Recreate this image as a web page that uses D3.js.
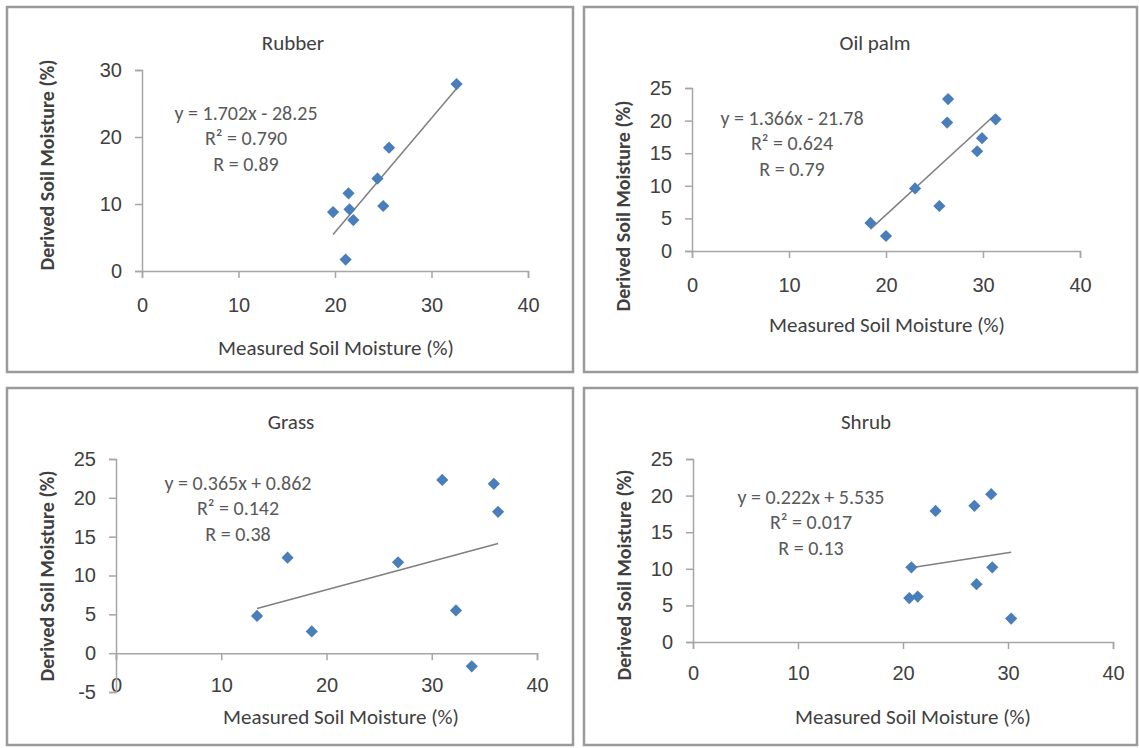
<!DOCTYPE html>
<html>
<head>
<meta charset="utf-8">
<script src="https://cdn.jsdelivr.net/npm/d3@7"></script>
<style>
  body { margin: 0; background: #fff; }
  svg { display: block; font-family: Carlito, Lato, "Open Sans", sans-serif; }
</style>
</head>
<body>
<svg width="1139" height="748"></svg>
<script>
// values
var titles = ["Rubber", "Oil palm", "Grass", "Shrub"];

var rubberX = [32.6, 25.6, 24.4, 25.0, 21.4, 21.5, 21.9, 19.8, 21.1];
var rubberY = [27.9, 18.4, 13.8, 9.7, 11.6, 9.2, 7.6, 8.8, 1.7];

var oilPalmX = [18.4, 20.0, 23.0, 25.5, 26.4, 26.3, 29.4, 29.9, 31.3];
var oilPalmY = [4.3, 2.3, 9.6, 6.9, 23.3, 19.7, 15.3, 17.3, 20.2];

var grassX = [13.4, 16.3, 18.6, 26.8, 31.0, 32.3, 33.8, 35.9, 36.3];
var grassY = [4.8, 12.3, 2.8, 11.7, 22.3, 5.5, -1.7, 21.8, 18.2];

var shrubX = [20.6, 20.8, 21.4, 23.1, 26.8, 27.0, 28.4, 28.5, 30.3];
var shrubY = [6.0, 10.2, 6.2, 17.9, 18.6, 7.9, 20.2, 10.2, 3.2];

var slopes = [1.702, 1.366, 0.365, 0.222];
var intercepts = [-28.25, -21.78, 0.862, 5.535];
var r2Text = ["0.790", "0.624", "0.142", "0.017"];
var rText = ["0.89", "0.79", "0.38", "0.13"];

var xTicks = [0, 10, 20, 30, 40];
var yTicks = [
  [0, 10, 20, 30],
  [0, 5, 10, 15, 20, 25],
  [-5, 0, 5, 10, 15, 20, 25],
  [0, 5, 10, 15, 20, 25]
];

var xLabel = "Measured Soil Moisture (%)";
var yLabel = "Derived Soil Moisture (%)";

var seriesX = [rubberX, oilPalmX, grassX, shrubX];
var seriesY = [rubberY, oilPalmY, grassY, shrubY];

// layout of each panel (page pixels)
var layout = [
  {box: [7, 7, 566, 365], px: [142, 528], py: [271, 70], tickY: 34,
   title: [293, 43], xt: [336, 348], yt: [47, 165], eq: [246, 113]},
  {box: [584, 7, 553, 365], px: [692, 1080], py: [251, 88], tickY: 34,
   title: [875, 43], xt: [887, 325], yt: [623, 206], eq: [792, 118]},
  {box: [7, 388, 566, 357], px: [116, 537], py: [692, 459], tickY: 32,
   title: [291, 422], xt: [341, 717], yt: [47, 576], eq: [238, 483]},
  {box: [584, 388, 553, 357], px: [693, 1113], py: [642, 459], tickY: 31,
   title: [866, 422], xt: [913, 717], yt: [624, 575], eq: [811, 497]}
];

var svg = d3.select("svg");
var diamond = d3.symbol().type(d3.symbolDiamond2).size(95);

titles.forEach(function(t, i) {
  var L = layout[i];
  var g = svg.append("g");

  g.append("rect")
    .attr("x", L.box[0]).attr("y", L.box[1])
    .attr("width", L.box[2]).attr("height", L.box[3])
    .attr("fill", "#fff")
    .attr("stroke", "#9a9a9a")
    .attr("stroke-width", 2.5);

  var yt = yTicks[i];
  var x = d3.scaleLinear().domain([0, 40]).range(L.px);
  var y = d3.scaleLinear().domain([yt[0], yt[yt.length - 1]]).range(L.py);

  // x axis sits on y = 0
  var xa = g.append("g")
    .attr("transform", "translate(0," + y(0) + ")")
    .call(d3.axisBottom(x).tickValues(xTicks).tickFormat(String).tickSize(7).tickSizeOuter(7));
  xa.selectAll("text")
    .attr("y", L.tickY).attr("dy", "0.35em");

  var ya = g.append("g")
    .attr("transform", "translate(" + x(0) + ",0)")
    .call(d3.axisLeft(y).tickValues(yt).tickFormat(String).tickSize(7).tickSizeOuter(7));
  ya.selectAll("text").attr("x", -20);

  g.selectAll(".domain, .tick line")
    .attr("stroke", "#a6a6a6").attr("stroke-width", 1.5);
  g.selectAll(".tick text")
    .attr("fill", "#404040")
    .style("font-size", "20px")
    .style("font-family", null);

  // trend line over the data range
  var xs = seriesX[i], ys = seriesY[i];
  var ext = d3.extent(xs);
  g.append("line")
    .attr("x1", x(ext[0])).attr("y1", y(slopes[i] * ext[0] + intercepts[i]))
    .attr("x2", x(ext[1])).attr("y2", y(slopes[i] * ext[1] + intercepts[i]))
    .attr("stroke", "#7f7f7f")
    .attr("stroke-width", 1.5);

  g.selectAll("path.pt")
    .data(xs)
    .enter().append("path")
    .attr("class", "pt")
    .attr("d", diamond)
    .attr("transform", function(d, j) { return "translate(" + x(d) + "," + y(ys[j]) + ")"; })
    .attr("fill", "#4a7ebb");

  // equation text
  var sign = intercepts[i] < 0 ? " - " : " + ";
  var eq = g.append("text")
    .attr("x", L.eq[0]).attr("y", L.eq[1])
    .attr("text-anchor", "middle")
    .attr("fill", "#595959")
    .style("font-size", "20px");
  eq.append("tspan").attr("x", L.eq[0]).attr("dy", "0.35em")
    .text("y = " + slopes[i].toFixed(3) + "x" + sign + Math.abs(intercepts[i]));
  eq.append("tspan").attr("x", L.eq[0]).attr("dy", 25)
    .text("R² = " + r2Text[i]);
  eq.append("tspan").attr("x", L.eq[0]).attr("dy", 26)
    .text("R = " + rText[i]);

  g.append("text")
    .attr("x", L.title[0]).attr("y", L.title[1]).attr("dy", "0.35em")
    .attr("text-anchor", "middle")
    .attr("fill", "#404040")
    .style("font-size", "21px")
    .text(t);

  g.append("text")
    .attr("x", L.xt[0]).attr("y", L.xt[1]).attr("dy", "0.35em")
    .attr("text-anchor", "middle")
    .attr("fill", "#404040")
    .style("font-size", "21px")
    .text(xLabel);

  g.append("text")
    .attr("transform", "translate(" + L.yt[0] + "," + L.yt[1] + ") rotate(-90)")
    .attr("dy", "0.35em")
    .attr("text-anchor", "middle")
    .attr("fill", "#404040")
    .style("font-size", "20px")
    .style("font-weight", "bold")
    .text(yLabel);
});
</script>
</body>
</html>
